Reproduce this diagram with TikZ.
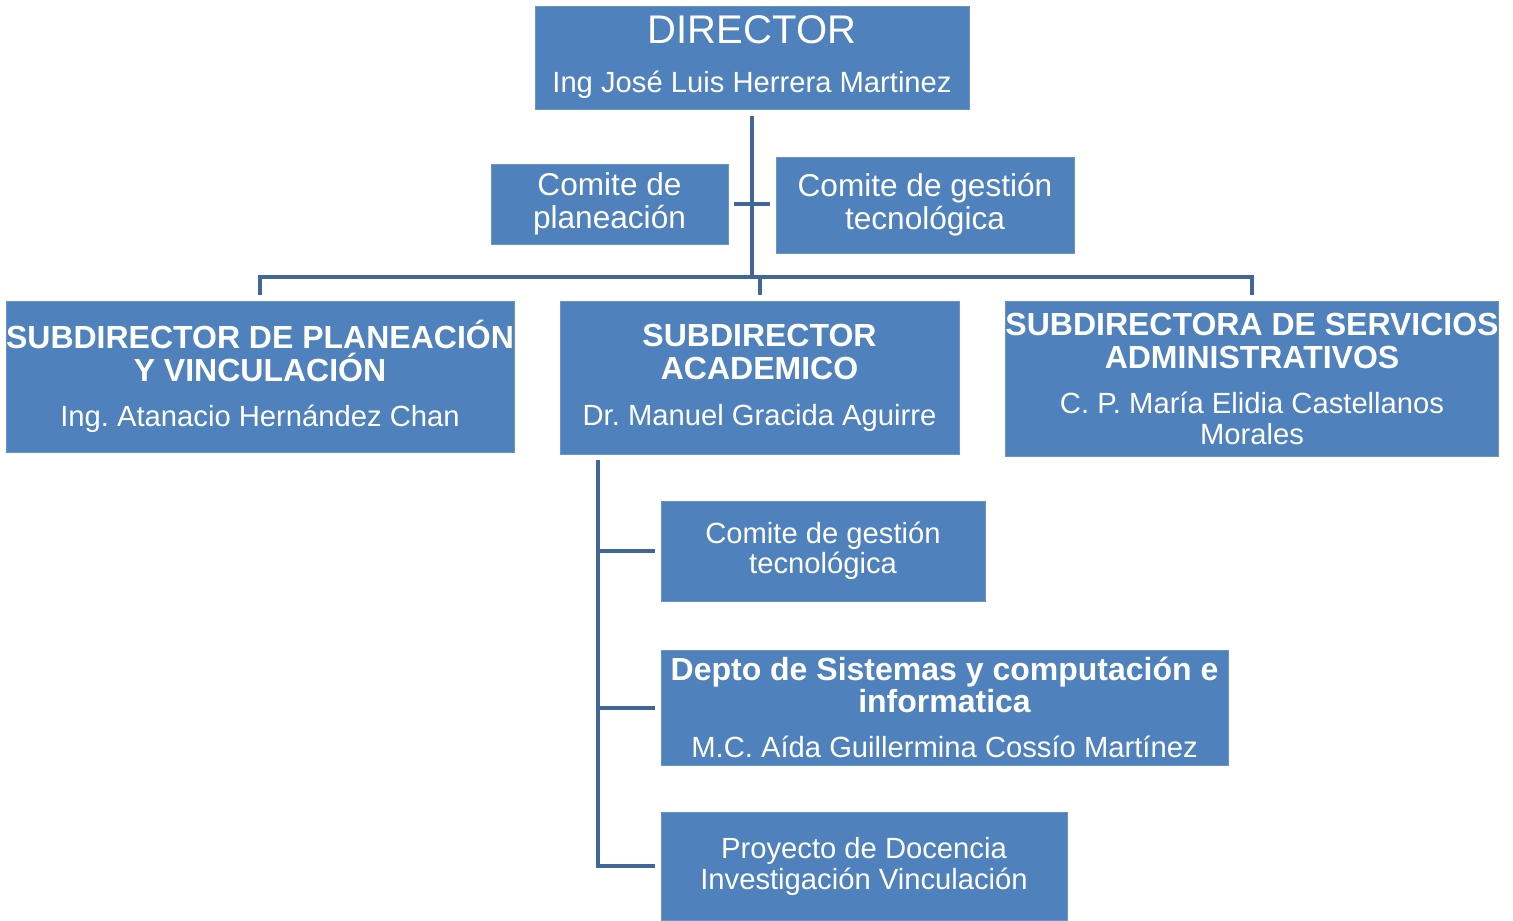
\documentclass[tikz,border=0pt]{standalone}
\usepackage{fontspec}
\setmainfont{Liberation Sans}
\frenchspacing
\definecolor{boxblue}{RGB}{79,129,189}
\definecolor{linkblue}{RGB}{65,103,153}
\tikzset{
  orgbox/.style={fill=boxblue, draw=boxblue!85!white, text=white, inner sep=0pt, align=center},
  conn/.style={draw=linkblue, line width=2pt}
}
\newcommand\headfont{\fontsize{16}{16.5}\selectfont\bfseries}
\newcommand\namefont{\fontsize{14.6}{15.5}\selectfont\mdseries}
\newcommand\comfont{\fontsize{15.8}{16.5}\selectfont}

\begin{document}
\begin{tikzpicture}[x=0.5pt,y=-0.5pt]
\useasboundingbox (0,0) rectangle (1513,920);
\begin{scope}[every node/.style={orgbox}]
    \node[font=\namefont, minimum width=217pt, minimum height=51.5pt] (dir) at (752,57.5)
        {\fontsize{20}{20}\selectfont DIRECTOR\\[9pt]\namefont Ing José Luis Herrera Martinez};
    \node[font=\comfont, minimum width=118.5pt, minimum height=40pt] (cp) at (609.5,204)
        {Comite de\\planeación};
    \node[font=\comfont, minimum width=149pt, minimum height=48pt] (gc) at (925,205)
        {Comite de gestión\\tecnológica};
    \node[font=\headfont, minimum width=253pt, minimum height=75.5pt] (sp) at (260,376.5)
        {SUBDIRECTOR DE PLANEACIÓN\\Y VINCULACIÓN\\[6pt]\namefont Ing. Atanacio Hernández Chan};
    \node[font=\headfont, minimum width=199.5pt, minimum height=76.5pt] (sa) at (759.5,377.5)
        {SUBDIRECTOR\\ACADEMICO\\[6.5pt]\namefont Dr. Manuel Gracida Aguirre};
    \node[font=\headfont, minimum width=245pt, minimum height=77.5pt] (sd) at (1252,378.5)
        {SUBDIRECTORA DE SERVICIOS\\ADMINISTRATIVOS\\[6pt]\namefont C. P. María Elidia Castellanos\\[-1pt]\namefont Morales};
    \node[font=\fontsize{14.6}{15}\selectfont, minimum width=162pt, minimum height=50pt] (cg) at (823,551)
        {Comite de gestión\\tecnológica};
    \node[font=\headfont, minimum width=283.5pt, minimum height=57.5pt] (dc) at (944.5,707.5)
        {Depto de Sistemas y computación e\\[-0.5pt]informatica\\[6pt]\namefont M.C. Aída Guillermina Cossío Martínez};
    \node[font=\namefont, minimum width=203pt, minimum height=54pt] (pd) at (864,866)
        {Proyecto de Docencia\\Investigación Vinculación};
\end{scope}
\coordinate (bar) at (752,277);
\coordinate (trunk) at (598,460);
\begin{scope}[every path/.style={conn}]
    \draw[shorten <=3.5pt] (dir.south) -- (bar);
    \draw[shorten <=3pt, shorten >=3pt] (cp.east) -- (cp.east -| gc.west);
    \draw[shorten <=3pt] (sp.north) |- (bar);
    \draw[shorten <=3pt] (sd.north) |- (bar);
    \draw[shorten <=3pt] (sa.north) -- (sa.north |- bar);
    \draw[shorten >=3pt] (trunk) |- (pd.west);
    \draw[shorten >=3pt] (trunk |- cg.west) -- (cg.west);
    \draw[shorten >=3pt] (trunk |- dc.west) -- (dc.west);
\end{scope}
\end{tikzpicture}
\end{document}
